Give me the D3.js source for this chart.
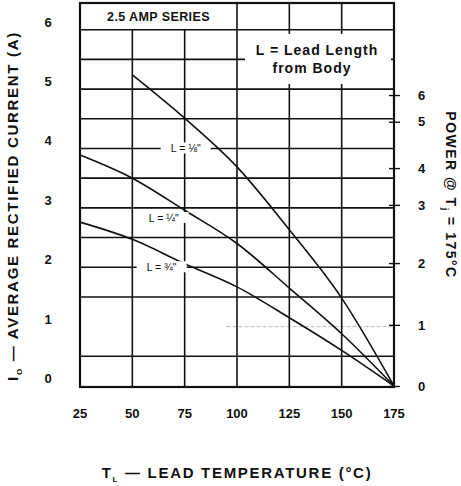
<!DOCTYPE html>
<html>
<head>
    <meta charset="utf-8">
    <script src="https://d3js.org/d3.v7.min.js"></script>
    <style>
      body {
        margin: 0;
        background: white;
      }

      text {
        font-family: "Liberation Sans", Arial, sans-serif;
        font-weight: bold;
        fill: #111;
      }

      .grid line, .curve {
        stroke: #111;
        stroke-width: 1.6px;
        fill: none;
      }
    </style>

    <title>2.5 Amp Series derating</title>
</head>
<body>

  <script type="text/javascript">
    "use strict";

    // lead temperature (deg C)
    var temps = [25, 50, 75, 100, 125, 150, 175];
    var currentTicks = [0, 1, 2, 3, 4, 5, 6];

    // right axis: power ticks and where they sit on the current axis
    var powerTicks = [0, 1, 2, 3, 4, 5, 6];
    var powerTickAt = [0, 1.03, 2.07, 3.05, 3.67, 4.45, 4.9];

    // half amp grid lines
    var gridAmps = [0.5, 1.5, 2, 2.5, 3, 3.5, 4, 4.5, 5, 5.5, 6];

    // curves, average rectified current (A)
    var lead18T = [50, 75, 100, 125, 150, 175];
    var lead18I = [5.24, 4.51, 3.69, 2.63, 1.48, 0];
    var lead14T = [25, 50, 75, 100, 125, 150, 175];
    var lead14I = [3.89, 3.5, 2.96, 2.4, 1.65, 0.88, 0];
    var lead34T = [25, 50, 75, 100, 125, 150, 175];
    var lead34I = [2.76, 2.47, 2.06, 1.67, 1.15, 0.6, 0];

    var curveLabels = ["L = \u215B\"", "L = \u00BC\"", "L = \u00BE\""];
    var labelT = [75.5, 65, 64];
    var labelI = [4.0, 2.83, 2.0];

    function draw() {
        var width = 461, height = 486;

        var svg = d3.select("body").append("svg")
            .attr("width", width)
            .attr("height", height);

        var x = d3.scaleLinear().domain([25, 175]).range([80, 394]);
        var y = d3.scaleLinear().domain([0, 6.45]).range([386, 3]);
        var yPower = d3.scaleLinear().domain(powerTicks).range(powerTickAt.map(y));

        var top = 3, bottom = 387;

        // grid
        var grid = svg.append("g").attr("class", "grid");

        grid.selectAll(".h")
            .data(gridAmps)
          .enter().append("line")
            .attr("x1", x(25)).attr("x2", x(175))
            .attr("y1", function (d) { return y(d); })
            .attr("y2", function (d) { return y(d); });

        // faint 1 A line
        grid.append("line")
            .attr("x1", x(95)).attr("x2", x(175))
            .attr("y1", y(1)).attr("y2", y(1))
            .style("stroke", "#bbb")
            .style("stroke-width", "1px")
            .style("stroke-dasharray", "4,2");

        grid.selectAll(".v")
            .data(temps)
          .enter().append("line")
            .attr("x1", function (d) { return x(d); })
            .attr("x2", function (d) { return x(d); })
            .attr("y1", function (d) { return d > 25 && d < 100 ? y(6) : top; })
            .attr("y2", bottom);

        // legend box knocks out the grid
        svg.append("rect")
            .attr("x", 245).attr("y", 34)
            .attr("width", 146).attr("height", 50)
            .style("fill", "white");

        // frame
        svg.append("rect")
            .attr("x", x(25)).attr("y", top)
            .attr("width", x(175) - x(25))
            .attr("height", bottom - top)
            .style("fill", "none")
            .style("stroke", "#111")
            .style("stroke-width", "2.2px");

        svg.append("text")
            .attr("x", (x(25) + x(100)) / 2)
            .attr("y", 21)
            .attr("text-anchor", "middle")
            .style("font-size", "12.5px")
            .style("letter-spacing", "0.4px")
            .text("2.5 AMP SERIES");

        svg.append("text")
            .attr("x", 317).attr("y", 55)
            .attr("text-anchor", "middle")
            .style("font-size", "14px")
            .style("letter-spacing", "1px")
            .text("L = Lead Length");
        svg.append("text")
            .attr("x", 312).attr("y", 73)
            .attr("text-anchor", "middle")
            .style("font-size", "14px")
            .style("letter-spacing", "1px")
            .text("from Body");

        // curves
        var line = d3.line()
            .x(function (d) { return x(d[0]); })
            .y(function (d) { return y(d[1]); })
            .curve(d3.curveMonotoneX);

        var series = [d3.zip(lead18T, lead18I), d3.zip(lead14T, lead14I), d3.zip(lead34T, lead34I)];

        svg.selectAll(".curve")
            .data(series)
          .enter().append("path")
            .attr("class", "curve")
            .attr("d", line);

        // curve labels with white backing
        var labels = svg.selectAll(".clabel")
            .data(curveLabels)
          .enter().append("g")
            .attr("class", "clabel")
            .attr("transform", function (d, i) {
                return "translate(" + x(labelT[i]) + "," + y(labelI[i]) + ")";
            });

        labels.append("rect")
            .attr("x", -25).attr("y", -6)
            .attr("width", 50).attr("height", 11)
            .style("fill", "white");

        labels.append("text")
            .attr("text-anchor", "middle")
            .attr("dy", "0.35em")
            .style("font-size", "10.5px")
            .style("font-weight", "normal")
            .text(function (d) { return d; });

        // left axis labels
        svg.selectAll(".ylab")
            .data(currentTicks)
          .enter().append("text")
            .attr("x", 48)
            .attr("y", function (d) { return y(d) - 3; })
            .attr("text-anchor", "middle")
            .style("font-size", "13px")
            .text(function (d) { return d; });

        // bottom axis labels
        svg.selectAll(".xlab")
            .data(temps)
          .enter().append("text")
            .attr("x", function (d) { return x(d); })
            .attr("y", 418)
            .attr("text-anchor", "middle")
            .style("font-size", "13px")
            .text(function (d) { return d; });

        // right power axis
        var rAxis = svg.append("g")
            .attr("transform", "translate(" + x(175) + ",0)")
            .call(d3.axisRight(yPower).tickValues(powerTicks).tickFormat(d3.format("d"))
                .tickSize(6).tickPadding(18));

        rAxis.select(".domain").remove();
        rAxis.selectAll(".tick line")
            .attr("x1", -5)
            .style("stroke", "#111")
            .style("stroke-width", "1.4px");
        rAxis.selectAll(".tick text")
            .style("font-family", "'Liberation Sans', Arial, sans-serif")
            .style("font-weight", "bold")
            .style("font-size", "13px")
            .style("fill", "#111");

        // axis titles
        var lt = svg.append("text")
            .attr("transform", "translate(18,206) rotate(-90)")
            .attr("text-anchor", "middle")
            .style("font-size", "15px")
            .style("letter-spacing", "1.7px");
        lt.append("tspan").text("I");
        lt.append("tspan").attr("dy", 4).style("font-size", "8px").text("O");
        lt.append("tspan").attr("dy", -4).text(" \u2014 AVERAGE RECTIFIED CURRENT (A)");

        var rt = svg.append("text")
            .attr("transform", "translate(446,195) rotate(90)")
            .attr("text-anchor", "middle")
            .style("font-size", "14px")
            .style("letter-spacing", "1.5px");
        rt.append("tspan").text("POWER @ T");
        rt.append("tspan").attr("dy", 4).style("font-size", "9px").text("j");
        rt.append("tspan").attr("dy", -4).text(" = 175\u00B0C");

        var bt = svg.append("text")
            .attr("x", 237).attr("y", 478)
            .attr("text-anchor", "middle")
            .style("font-size", "15px")
            .style("letter-spacing", "1.7px");
        bt.append("tspan").text("T");
        bt.append("tspan").attr("dy", 4).style("font-size", "8px").text("L");
        bt.append("tspan").attr("dy", -4).text(" \u2014 LEAD TEMPERATURE (\u00B0C)");
    }

    draw();
  </script>

</body>
</html>
